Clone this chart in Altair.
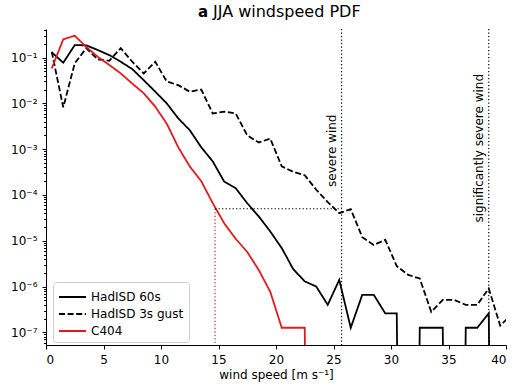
import altair as alt
import pandas as pd

# ---------------- data ----------------
bins = [i + 0.5 for i in range(40)]

hadisd_60s = [0.13, 0.077, 0.187, 0.185, 0.146, 0.113, 0.081, 0.056, 0.032, 0.018,
              0.010, 0.0047, 0.0026, 0.0011, 5.4e-4, 1.95e-4, 1.4e-4, 6.6e-5, 3.4e-5, 1.6e-5,
              6.9e-6, 2.4e-6, 1.3e-6, 1.0e-6, 4.0e-7, 1.4e-6, 1.26e-7, 6.6e-7, 6.6e-7, 2.6e-7,
              2.6e-7, 0, 1.26e-7, 1.26e-7, 1.26e-7, 0, 1.26e-7, 1.26e-7, 2.6e-7, 0]

gust_bins = bins + [40.5]
hadisd_gust = [0.134, 0.0082, 0.075, 0.16, 0.091, 0.085, 0.16, 0.081, 0.045, 0.081,
               0.030, 0.025, 0.018, 0.020, 0.006, 0.0066, 0.006, 0.002, 0.0014, 0.0017,
               4.2e-4, 3.2e-4, 2.7e-4, 1.3e-4, 7.0e-5, 4.0e-5, 4.9e-5, 1.2e-5, 8.1e-6, 1.05e-5,
               2.8e-6, 1.8e-6, 1.5e-6, 2.8e-7, 5.1e-7, 5.1e-7, 4.0e-7, 4.0e-7, 9.1e-7, 1.4e-7,
               2.5e-7]

c404 = [0.058, 0.25, 0.30, 0.17, 0.104, 0.069, 0.045, 0.027, 0.0166, 0.0085,
        0.0036, 0.0011, 4.2e-4, 2.0e-4, 6.6e-5, 2.4e-5, 1.1e-5, 5.7e-6, 2.3e-6, 7.7e-7,
        1.26e-7, 1.26e-7, 1.26e-7, 0, 0, 0, 0, 0, 0, 0,
        0, 0, 0, 0, 0, 0, 0, 0, 0, 0]

series_names = ["HadISD 60s", "HadISD 3s gust", "C404"]
series_colors = ["#000000", "#000000", "#e31a1c"]
series_dash = [[1, 0], [6, 2.6], [1, 0]]

severe_wind = 25.7
sig_severe_wind = 38.5
c404_threshold = 14.7
pdf_level = 5e-5

y_min, y_max = 5.3e-8, 0.42
x_ticks = [0, 5, 10, 15, 20, 25, 30, 35, 40]
y_major = [1e-7, 1e-6, 1e-5, 1e-4, 1e-3, 1e-2, 1e-1]
y_labels = ["10⁻⁷", "10⁻⁶", "10⁻⁵", "10⁻⁴", "10⁻³", "10⁻²", "10⁻¹"]
y_minor = [m * 10.0 ** e for e in range(-8, 0) for m in range(2, 10)]
y_minor = [v for v in y_minor if y_min <= v <= y_max]

FLOOR = 1e-30  # zero counts fall off the bottom of the log axis

# ---------------- tables ----------------
rows = []
for name, xs, ys in [(series_names[0], bins, hadisd_60s),
                     (series_names[1], gust_bins, hadisd_gust),
                     (series_names[2], bins, c404)]:
    for i, (xv, yv) in enumerate(zip(xs, ys)):
        rows.append({"series": name, "ws": xv, "pdf": yv if yv > 0 else FLOOR, "i": i})
df = pd.DataFrame(rows)

FONT = "DejaVu Sans"
label_expr = "[" + ",".join("'%s'" % s for s in y_labels) + "][round(log(datum.value)/LN10)+7]"

xscale = alt.Scale(domain=[0, 40], nice=False, zero=False)
yscale = alt.Scale(type="log", domain=[y_min, y_max], nice=False)


def make_legend():
    return alt.Legend(title=None, orient="none", legendX=7, legendY=253,
                      symbolType="M-1,0H2", symbolSize=324,
                      symbolStrokeWidth=1.8, labelFont=FONT,
                      labelFontSize=12, labelColor="#000000",
                      strokeColor="#cccccc", fillColor="#ffffffcc",
                      padding=5, cornerRadius=3, rowPadding=1,
                      labelOffset=13)


lines = alt.Chart(df).mark_line(clip=True, strokeWidth=1.8).encode(
    x=alt.X("ws:Q", scale=xscale,
            axis=alt.Axis(values=x_ticks, title="wind speed [m s⁻¹]", format="d",
                          labelPadding=5)),
    y=alt.Y("pdf:Q", scale=yscale,
            axis=alt.Axis(values=y_major, labelExpr=label_expr, title=None,
                          labelPadding=5)),
    color=alt.Color("series:N", scale=alt.Scale(domain=series_names, range=series_colors),
                    legend=make_legend()),
    strokeDash=alt.StrokeDash("series:N",
                              scale=alt.Scale(domain=series_names, range=series_dash),
                              legend=make_legend()),
    order=alt.Order("i:Q"),
)

vlines = alt.Chart(pd.DataFrame({"ws": [severe_wind, sig_severe_wind]})).mark_rule(
    color="#000000", strokeWidth=1.2, strokeDash=[1.3, 2.2]).encode(x="ws:Q")

thr_df = pd.DataFrame({"ws": [c404_threshold], "ws2": [severe_wind],
                       "pdf": [pdf_level], "bottom": [y_min]})
red_v = alt.Chart(thr_df).mark_rule(color="#e31a1c", strokeWidth=1.2,
                                    strokeDash=[1.3, 2.2]).encode(
    x="ws:Q", y="pdf:Q", y2="bottom:Q")
black_h = alt.Chart(thr_df).mark_rule(color="#000000", strokeWidth=1.2,
                                      strokeDash=[1.3, 2.2]).encode(
    x="ws:Q", x2="ws2:Q", y="pdf:Q")

ann_df = pd.DataFrame({"ws": [severe_wind, sig_severe_wind],
                       "pdf": [1.5e-4, 2.5e-5],
                       "label": ["severe wind", "significantly severe wind"]})
ann = alt.Chart(ann_df).mark_text(angle=270, align="left", baseline="alphabetic",
                                  dy=-6, font=FONT, fontSize=12, color="#000000").encode(
    x="ws:Q", y="pdf:Q", text="label:N")

title_a = alt.Chart(pd.DataFrame({"t": ["a"]})).mark_text(
    align="left", baseline="alphabetic", font=FONT, fontSize=15, fontWeight="bold",
    color="#000000").encode(x=alt.value(152), y=alt.value(-12), text="t:N")
title_b = alt.Chart(pd.DataFrame({"t": ["JJA windspeed PDF"]})).mark_text(
    align="left", baseline="alphabetic", font=FONT, fontSize=16,
    color="#000000").encode(x=alt.value(167), y=alt.value(-12), text="t:N")

main = alt.layer(lines, vlines, red_v, black_h, ann, title_a, title_b)

minor = alt.Chart(df).mark_line(opacity=0).encode(
    x=alt.X("ws:Q", scale=xscale),
    y=alt.Y("pdf:Q", scale=yscale,
            axis=alt.Axis(values=y_minor, labels=False, tickSize=2.5, domain=False,
                          title=None, grid=False, orient="left")),
)

chart = alt.layer(main, minor).resolve_scale(y="independent").properties(
    width=460, height=316,
    autosize=alt.AutoSizeParams(type="none"),
    padding={"left": 46, "top": 29, "right": 8, "bottom": 42},
).configure_view(stroke=None).configure_axis(
    grid=False, labelFont=FONT, labelFontSize=12, labelColor="#000000",
    titleFont=FONT, titleFontSize=12, titleFontWeight="normal", titleColor="#000000",
    tickColor="#000000", domainColor="#000000", tickSize=4, labelPadding=3,
    domainWidth=1, tickWidth=1, titlePadding=4,
)

chart.save("out.html", embed_options={"renderer": "svg", "actions": False})
